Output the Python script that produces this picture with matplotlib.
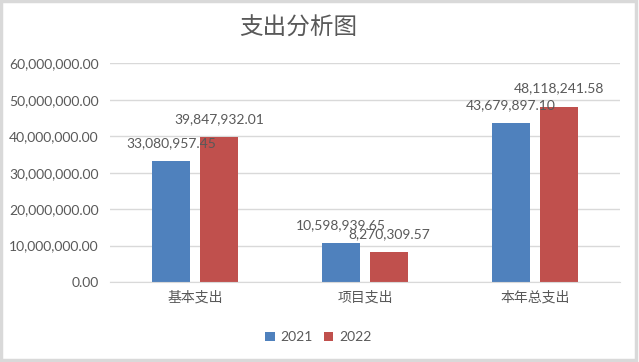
import numpy as np
import matplotlib.pyplot as plt
from matplotlib.ticker import FuncFormatter
from matplotlib.patches import Rectangle

plt.rcParams['font.family'] = ['Lato', 'Noto Sans CJK SC', 'DejaVu Sans']

categories = ["基本支出", "项目支出", "本年总支出"]
series_names = ["2021", "2022"]
values_2021 = [33080957.45, 10598939.65, 43679897.10]
values_2022 = [39847932.01, 8270309.57, 48118241.58]
yticks = [0, 10000000, 20000000, 30000000, 40000000, 50000000, 60000000]

blue = "#4F81BD"
red = "#C0504D"
text_color = "#595959"
grid_color = "#D9D9D9"

fig = plt.figure(figsize=(6.39, 3.62), dpi=100)
ax = fig.add_axes([0.172, 0.221, 0.798, 0.604])

x = np.arange(len(categories))
width = 0.224
shift = 0.141
bars1 = ax.bar(x - shift, values_2021, width, color=blue, label=series_names[0], zorder=3)
bars2 = ax.bar(x + shift, values_2022, width, color=red, label=series_names[1], zorder=3)

ax.set_xlim(-0.5, len(categories) - 0.5)
ax.set_ylim(0, 60000000)
ax.set_yticks(yticks)
ax.yaxis.set_major_formatter(FuncFormatter(lambda v, p: f"{v:,.2f}"))
ax.set_xticks(x)
ax.set_xticklabels(categories)
ax.tick_params(axis='both', length=0, colors=text_color, labelsize=10)
ax.tick_params(axis='x', pad=6)
ax.tick_params(axis='y', pad=8)
ax.grid(axis='y', color=grid_color, linewidth=1, zorder=0)
for s in ['top', 'right', 'left']:
    ax.spines[s].set_visible(False)
ax.spines['bottom'].set_color(grid_color)
ax.spines['bottom'].set_zorder(4)

# data labels above each bar
for bars, vals in [(bars1, values_2021), (bars2, values_2022)]:
    for bar, v in zip(bars, vals):
        ax.annotate(f"{v:,.2f}", (bar.get_x() + bar.get_width() / 2, v), xytext=(0, 13),
                    textcoords='offset points', ha='center', va='center',
                    fontsize=10, color=text_color, zorder=5)

fig.text(0.467, 0.925, "支出分析图", ha='center', va='center', fontsize=17, color=text_color)

leg = fig.legend(loc='center', bbox_to_anchor=(0.498, 0.068), ncol=2, frameon=False,
                 fontsize=10, handlelength=0.7, handleheight=0.7, handletextpad=0.4,
                 columnspacing=0.8, labelcolor=text_color)

fig.patches.append(Rectangle((0.002, 0.006), 0.993, 0.99, transform=fig.transFigure,
                             fill=False, edgecolor="#D9D9D9", linewidth=2.5))

fig.savefig("out.png", dpi=100)
